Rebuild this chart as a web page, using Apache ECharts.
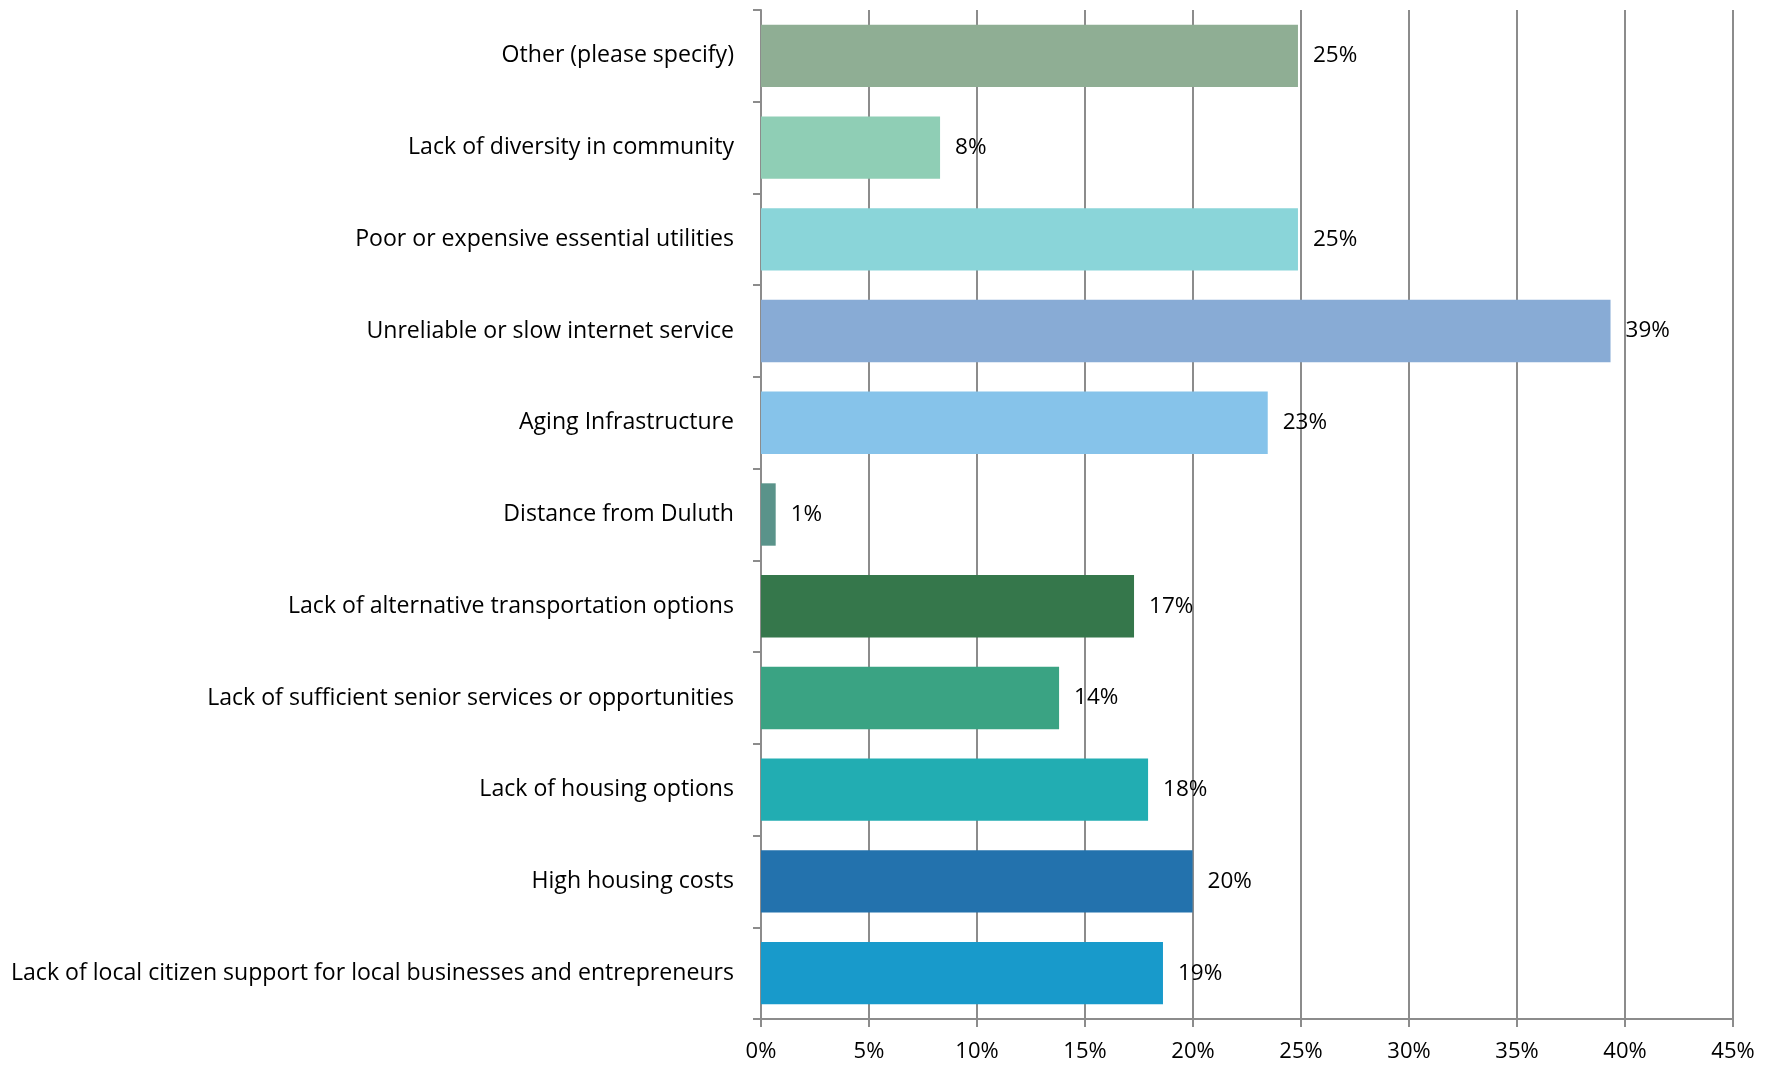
<!DOCTYPE html>
<html>
<head>
<meta charset="utf-8">
<script src="https://cdn.jsdelivr.net/npm/echarts@6/dist/echarts.min.js"></script>
<style>
html,body{margin:0;padding:0;background:#fff;}
#chart{width:1777px;height:1066px;}
</style>
</head>
<body>
<div id="chart"></div>
<script>
// Categories listed top to bottom
const categories = [
  "Other (please specify)",
  "Lack of diversity in community",
  "Poor or expensive essential utilities",
  "Unreliable or slow internet service",
  "Aging Infrastructure",
  "Distance from Duluth",
  "Lack of alternative transportation options",
  "Lack of sufficient senior services or opportunities",
  "Lack of housing options",
  "High housing costs",
  "Lack of local citizen support for local businesses and entrepreneurs"
];
const values = [24.86, 8.29, 24.86, 39.33, 23.46, 0.68, 17.27, 13.8, 17.92, 19.98, 18.61];
const barColors = ["#8FAE94","#8FCEB5","#8AD5D9","#88ABD5","#86C3EA","#5A938A","#35774B","#3AA383","#22ADB2","#2372AD","#189ACB"];
const xTicks = [0,5,10,15,20,25,30,35,40,45];

const FONT = "Open Sans";
const chart = echarts.init(document.getElementById('chart'), null, {renderer:'canvas'});
chart.setOption({
  animation:false,
  backgroundColor:'#fff',
  grid:{left:761,right:44,top:10,bottom:47,containLabel:false},
  xAxis:{
    type:'value',min:xTicks[0],max:xTicks[xTicks.length-1],interval:5,
    axisLine:{show:true,lineStyle:{color:'#8C8C8C',width:2}},
    axisTick:{show:true,length:8,lineStyle:{color:'#8C8C8C',width:2}},
    splitLine:{show:true,lineStyle:{color:'#8C8C8C',width:2}},
    axisLabel:{formatter:v=>v+'%',color:'#000',fontSize:22,fontFamily:FONT,margin:22}
  },
  yAxis:{
    type:'category',data:categories,inverse:true,
    axisLine:{show:true,lineStyle:{color:'#8C8C8C',width:2}},
    axisTick:{show:true,length:8,lineStyle:{color:'#8C8C8C',width:2}},
    axisLabel:{color:'#000',fontSize:23.1,fontFamily:FONT,margin:27}
  },
  series:[{
    type:'bar',
    data:values.map((v,i)=>({value:v,itemStyle:{color:barColors[i]}})),
    barCategoryGap:'32%',
    label:{show:true,position:'right',distance:15,formatter:p=>Math.round(p.value)+'%',color:'#000',fontSize:22.5,fontFamily:FONT}
  }]
});
</script>
</body>
</html>
